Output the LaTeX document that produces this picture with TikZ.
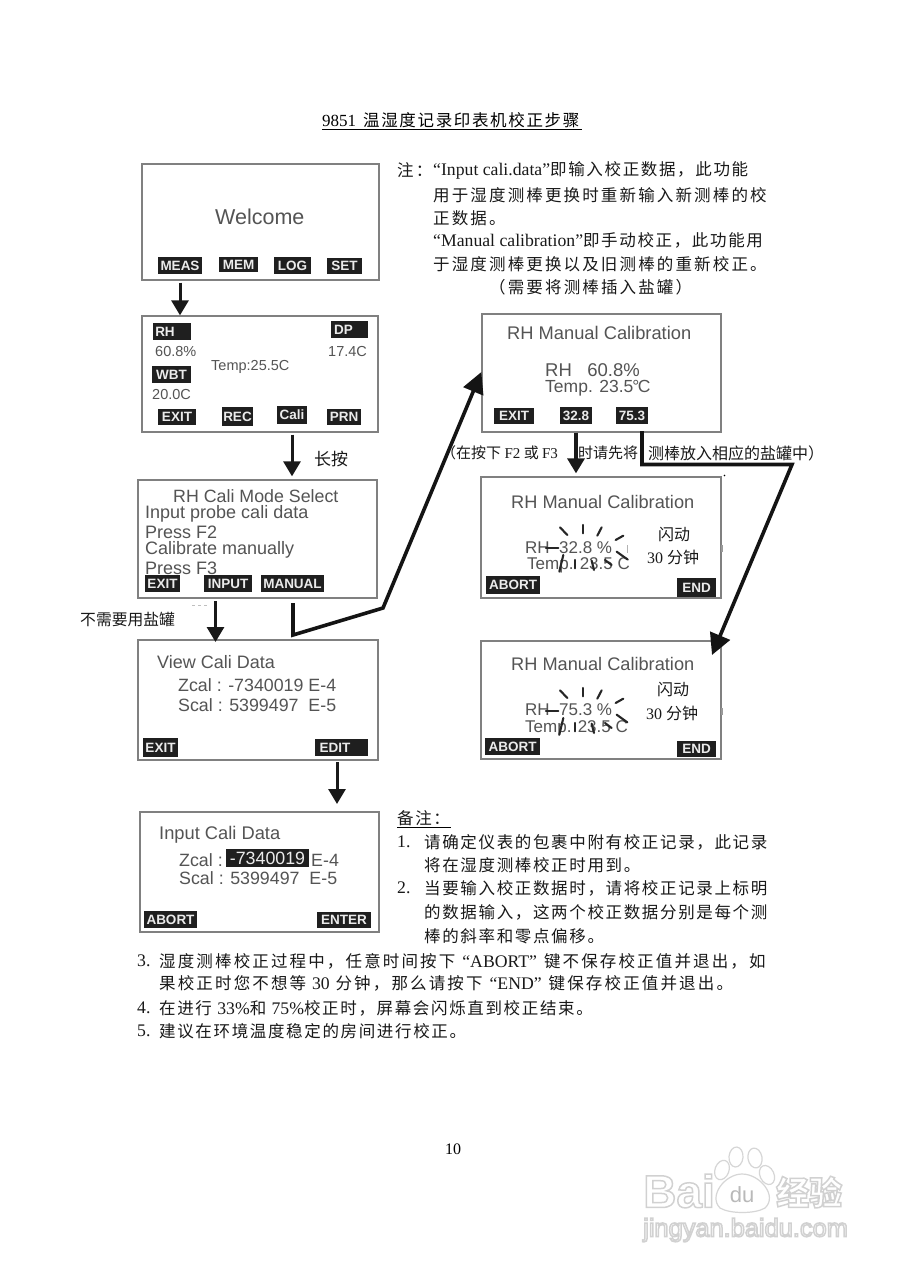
\documentclass[tikz,border=0pt]{standalone}
\usepackage{fontspec}
\setmainfont{Liberation Serif}
\setsansfont{Liberation Sans}
\newfontfamily\cjk{Noto Sans CJK SC}
\newfontfamily\cjkn[LetterSpace=13]{Noto Sans CJK SC}
\newfontfamily\cjkb[LetterSpace=10]{Noto Sans CJK SC}
\newfontfamily\ltnf{Liberation Serif}
\newcommand{\ltn}{\ltnf\fontsize{17.7}{17.7}\selectfont}
\newfontfamily\wmk{Liberation Sans}
\usetikzlibrary{arrows.meta}
\definecolor{lcd}{gray}{0.33}
\definecolor{keyb}{gray}{0.12}
\definecolor{frame}{gray}{0.5}
\definecolor{halo}{gray}{0.84}
\tikzset{
 x=1pt,y=-1pt,
 screen/.style={draw=frame,line width=1.3pt,fill=white,inner sep=0},
 lcdt/.style={font=\sffamily\fontsize{#1}{#1}\selectfont,text=lcd,inner sep=0,anchor=west},
 softkey/.style={fill=keyb,text=white!92!black,font=\sffamily\bfseries\fontsize{13.5}{13.5}\selectfont,inner sep=0,align=center},
 note/.style={font=\cjkn\fontsize{16.5}{16.5}\selectfont,inner sep=0,anchor=west,text=black!90},
 noteb/.style={font=\cjkb\fontsize{16.5}{16.5}\selectfont,inner sep=0,anchor=west,text=black!90},
 flash/.style={font=\cjk\fontsize{16}{16}\selectfont,inner sep=0,anchor=west,text=black!90},
 flow/.style={line width=3pt,black!90,-{Triangle[width=17pt,length=15pt]}},
 longflow/.style={line width=3.6pt,black!92,miter limit=10,-{Triangle[width=21pt,length=21pt]}},
 ray/.style={line width=2.1pt,black!85,line cap=round},
 wmtext/.style={inner sep=0,text=white,anchor=west}
}
\newcommand{\scr}[5]{\node[screen,minimum width={#4-#2},minimum height={#5-#3}] (#1) at ({(#2+#4)/2},{(#3+#5)/2}) {};}
\newcommand{\skey}[6]{\node[softkey,minimum width={#4-#2},minimum height={#5-#3}] (#1) at ({(#2+#4)/2},{(#3+#5)/2}) {#6};}
\newcommand{\rays}[1]{%
 \begin{scope}[shift={(470,#1)},x=.3333pt,y=-.3333pt]
 \foreach \a/\b/\c/\d in {270/172/292/195, 338/165/338/190, 395/172/382/197, 460/197/437/210, 440/245/472/268, 280/255/268/305, 315/270/315/295, 365/272/372/300, 405/270/425/285, 228/235/265/235}
  {\draw[ray] (\a,\b) -- (\c,\d);}
 \end{scope}}
\newcommand{\outl}[1]{\special{pdf:code q 2 Tr 1.5 w 0.82 G 1 g}#1\special{pdf:code Q}}
\begin{document}
\begin{tikzpicture}
\useasboundingbox (0,0) rectangle (904,1280);
\fill[white] (0,0) rectangle (904,1280);

% title
\node[inner sep=0,anchor=west,font=\fontsize{17}{17}\selectfont] (title1) at (322,120.5) {9851};
\node[inner sep=0,anchor=west,font=\cjkb\fontsize{16.5}{16.5}\selectfont] (title2) at (363,120.5) {温湿度记录印表机校正步骤};
\draw[black,line width=.7pt] (322,129.5) -- (582,129.5);

% screens
\scr{s1}{142}{164}{379}{280}
\scr{s2}{142}{316}{378}{432}
\scr{s3}{138}{480}{377}{598}
\scr{s4}{138}{640}{378}{760}
\scr{s5}{140}{812}{379}{932}
\scr{s6}{482}{314}{721}{432}
\scr{s7}{481}{477}{721}{598}
\scr{s8}{481}{641}{721}{759}

% Welcome
\node[lcdt=21.5] (w) at (215,217) {Welcome};
\skey{k1}{158}{257}{202}{274}{MEAS}
\skey{k2}{219}{257}{258}{272}{MEM}
\skey{k3}{274}{257}{311}{274}{LOG}
\skey{k4}{327}{258}{362}{274}{SET}

% measure
\skey{rh}{153}{323}{191}{340}{\hspace{-14pt}RH}
\skey{dp}{331}{321}{368}{338}{\hspace{-12pt}DP}
\skey{wbt}{152}{366}{191}{383}{WBT}
\node[lcdt=14.5] (a1) at (155,352) {60.8\%};
\node[lcdt=14.5] (a2) at (328,352) {17.4C};
\node[lcdt=14.5] (a3) at (211,367) {Temp:25.5C};
\node[lcdt=14.5] (a4) at (152,395) {20.0C};
\skey{k5}{158}{409}{196}{425}{EXIT}
\skey{k6}{222}{407}{253}{426}{REC}
\skey{k7}{277}{406}{307}{424}{Cali}
\skey{k8}{327}{409}{361}{425}{PRN}

% cali mode
\node[lcdt=17.8] (b1) at (173,496) {RH Cali Mode Select};
\node[lcdt=18] (b2) at (145,514) {Input probe cali data};
\node[lcdt=18] (b3) at (145,532) {Press F2};
\node[lcdt=18] (b4) at (145,550) {Calibrate manually};
\node[lcdt=18] (b5) at (145,568) {Press F3};
\skey{k9}{145}{575}{180}{592}{EXIT}
\skey{k10}{204}{575}{252}{592}{INPUT}
\skey{k11}{261}{575}{324}{592}{MANUAL}

% view cali
\node[lcdt=18] (c1) at (157,662) {View Cali Data};
\node[lcdt=17.8] (c2) at (178,685) {Zcal : -7340019 E-4};
\node[lcdt=17.8] (c3) at (178,705) {Scal : 5399497\ \ E-5};
\skey{k12}{143}{738}{178}{757}{EXIT}
\skey{k13}{315}{739}{368}{756}{\hspace{-13pt}EDIT}

% input cali
\node[lcdt=18.3] (d1) at (159,835) {Input Cali Data};
\node[lcdt=17.8] (d2) at (179,860) {Zcal :};
\node[softkey,font=\sffamily\fontsize{17.8}{17.8}\selectfont,minimum width=83,minimum height=18] (d3) at (267.5,858) {-7340019};
\node[lcdt=17.8] (d4) at (311,860) {E-4};
\node[lcdt=17.8] (d5) at (179,878) {Scal : 5399497\ \ E-5};
\skey{k14}{144}{911}{197}{928}{ABORT}
\skey{k15}{317}{912}{371}{928}{ENTER}

% manual 1
\node[lcdt=18.3] (e1) at (507,333) {RH Manual Calibration};
\node[lcdt=18.5] (e2) at (545,370) {RH\ \ \ 60.8\%};
\node[lcdt=17.5] (e3) at (545,388) {Temp. 23.5\kern-1pt\textdegree\kern-1.5pt C};
\skey{k16}{494}{408}{534}{424}{EXIT}
\skey{k17}{560}{407}{592}{424}{32.8}
\skey{k18}{616}{407}{648}{424}{75.3}

% manual 2
\node[lcdt=18.2] (f1) at (511,502) {RH Manual Calibration};
\node[lcdt=17] (f2) at (525,548) {RH\ \ 32.8 \%};
\node[lcdt=17] (f3) at (527,565) {Temp. 23.5 C};
\rays{470}
\skey{k19}{486}{576}{540}{594}{ABORT}
\skey{k20}{677}{578}{716}{597}{END}
\node[flash] (f4) at (658,534) {闪动};
\node[flash] (f5) at (647,557) {\ltnf 30 \cjk 分钟};

% manual 3
\node[lcdt=18.2] (g1) at (511,664) {RH Manual Calibration};
\node[lcdt=17] (g2) at (525,710) {RH\ \ 75.3 \%};
\node[lcdt=17] (g3) at (525,728) {Temp. 23.5 C};
\rays{633}
\skey{k21}{485}{738}{540}{755}{ABORT}
\skey{k22}{677}{741}{716}{757}{END}
\node[flash] (g4) at (657,689) {闪动};
\node[flash] (g5) at (646,713) {\ltnf 30 \cjk 分钟};

% stray marks
\fill[gray!80] (721,545) rectangle (723,552);
\fill[gray!80] (721,708) rectangle (723,715);
\fill[gray!60] (627,545) rectangle (628,553);
\fill[black] (724.5,475.5) circle (.9);
\draw[gray!50,dashed,line width=.6pt] (192,605) -- (210,605);

% top note
\node[note] (n0) at (397,170) {注：};
\node[note] (n1) at (433,170) {{\ltn“Input cali.data”}\cjkb 即输入校正数据，此功能};
\node[note] (n2) at (433,195) {用于湿度测棒更换时重新输入新测棒的校};
\node[note] (n3) at (433,218) {正数据。};
\node[note] (n4) at (433,240) {{\ltn“Manual calibration”}\cjkb 即手动校正，此功能用};
\node[note] (n5) at (433,264) {于湿度测棒更换以及旧测棒的重新校正。};
\node[note] (n6) at (489,287) {（需要将测棒插入盐罐）};

% side labels
\node[note,font=\cjk\fontsize{17}{17}\selectfont] (l1) at (314,459) {长按};
\node[note,font=\cjk\fontsize{15.8}{15.8}\selectfont] (l2) at (80,620) {不需要用盐罐};
\node[note,font=\cjk\fontsize{15}{15}\selectfont] (l3) at (441,453) {（在按下 {\ltnf F2} 或 {\ltnf F3}};
\node[note,font=\cjk\fontsize{15}{15}\selectfont] (l4) at (578,453) {时请先将};
\node[note,font=\cjk\fontsize{16}{16}\selectfont] (l5) at (648,453) {测棒放入相应的盐罐中）};

% lower notes
\node[noteb] (r0) at (397,818) {备注：};
\draw[black,line width=.7pt] (397,827.5) -- (451,827.5);
\node[noteb] (r1a) at (397,842) {\ltn 1.};
\node[noteb] (r1) at (424,842) {请确定仪表的包裹中附有校正记录，此记录};
\node[noteb] (r2) at (424,865) {将在湿度测棒校正时用到。};
\node[noteb] (r3a) at (397,888) {\ltn 2.};
\node[noteb] (r3) at (424,888) {当要输入校正数据时，请将校正记录上标明};
\node[noteb] (r4) at (424,912) {的数据输入，这两个校正数据分别是每个测};
\node[noteb] (r5) at (424,936) {棒的斜率和零点偏移。};
\node[noteb] (q1a) at (137,961) {\ltn 3.};
\node[note] (q1) at (159,961) {湿度测棒校正过程中，任意时间按下{\ltn\kern7pt“ABORT”\kern7pt}键不保存校正值并退出，如};
\node[note] (q2) at (159,983) {果校正时您不想等 {\ltn 30} 分钟，那么请按下{\ltn\kern7pt“END”\kern7pt}键保存校正值并退出。};
\node[noteb] (q3a) at (137,1008) {\ltn 4.};
\node[noteb] (q3) at (159,1008) {在进行 {\ltn 33\%}和 {\ltn 75\%}校正时，屏幕会闪烁直到校正结束。};
\node[noteb] (q4a) at (137,1031) {\ltn 5.};
\node[noteb] (q4) at (159,1031) {建议在环境温度稳定的房间进行校正。};

% page number
\node[inner sep=0,font=\fontsize{16}{16}\selectfont] (pg) at (453,1149) {10};

% connectors
\draw[flow,shorten <=2pt] (k1|-s1.south) -- (k1|-s2.north);
\draw[flow,shorten <=2pt,shorten >=3pt] (k7|-s2.south) -- (k7|-s3.north);
\coordinate (c34a) at (215.5,601);
\coordinate (c34b) at (215.5,642);
\draw[flow] (c34a) -- (c34b);
\coordinate (mstart) at (293,603);
\coordinate (mknee) at (293,635);
\coordinate (mbend) at (383,608);
\draw[longflow] (mstart) -- (mknee) -- (mbend) -- (s6.west|-0,372);
\draw[flow,line width=3.4pt,shorten >=3pt] (k17|-s6.south) -- (k17|-s7.north);
\coordinate (hstart) at (642,431);
\coordinate (hknee) at (642,464.5);
\coordinate (hbend) at (792,464.5);
\coordinate (htip) at (712,655);
\draw[longflow] (hstart) -- (hknee) -- (hbend) -- (htip);
\coordinate (c56a) at (337,762);
\coordinate (c56b) at (337,804);
\draw[flow] (c56a) -- (c56b);

% watermark
\node[wmtext,font=\wmk\bfseries\fontsize{46}{46}\selectfont] (wm1) at (643,1191) {\outl{Bai}};
\foreach \cx/\cy/\rx/\ry/\an in {722/1170/7/10/-20,736/1157/7/10/-5,755/1158/7/10/10,767/1175/7/10/25}
 {\draw[halo,fill=white,line width=1.2pt,rotate around={\an:(\cx,\cy)}] (\cx,\cy) ellipse ({\rx} and {\ry});}
\draw[halo,fill=white,line width=1.2pt] (720,1208) .. controls (708,1196) and (725,1174) .. (742,1174) .. controls (760,1174) and (778,1196) .. (765,1208) .. controls (755,1214) and (730,1214) .. (720,1208) -- cycle;
\node[inner sep=0,text=gray!55,font=\wmk\fontsize{22}{22}\selectfont] (du) at (742,1195) {du};
\node[wmtext,font=\cjk\bfseries\fontsize{33}{33}\selectfont] (wm2) at (776,1192) {\outl{经验}};
\node[wmtext,font=\wmk\fontsize{25.4}{25.4}\selectfont] (wm3) at (643,1230) {\outl{jingyan.baidu.com}};
\end{tikzpicture}
\end{document}
